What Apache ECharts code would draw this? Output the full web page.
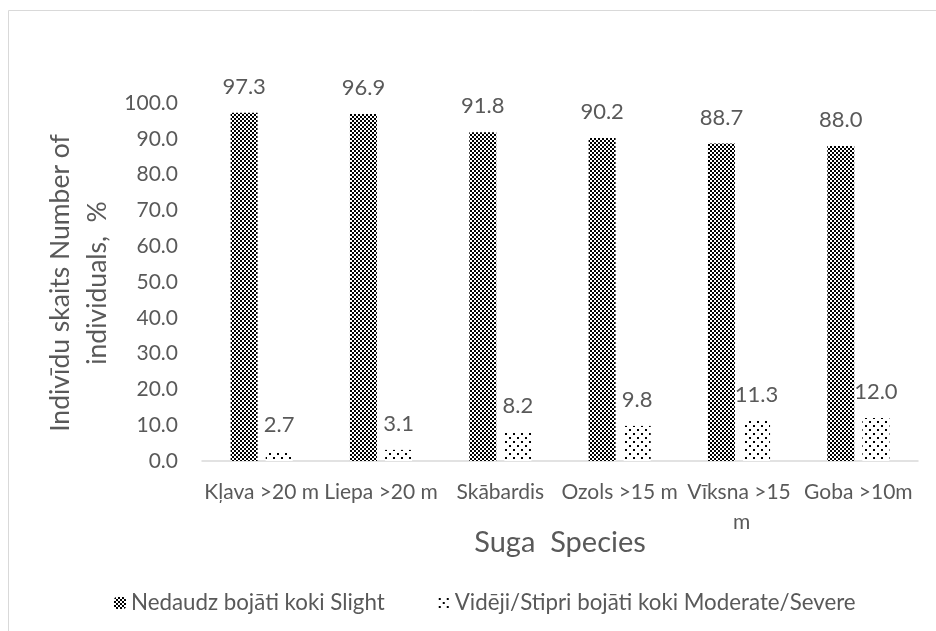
<!DOCTYPE html>
<html>
<head>
<meta charset="utf-8">
<script src="https://cdn.jsdelivr.net/npm/echarts@6/dist/echarts.min.js"></script>
<style>
    html, body { margin: 0; padding: 0; background: #fff; }
    #chart { width: 936px; height: 631px; }
</style>
</head>
<body>
<div id="chart"></div>
<script>
    var categories = ['Kļava >20 m', 'Liepa >20 m', 'Skābardis', 'Ozols >15 m', 'Vīksna >15 m', 'Goba >10m'];
    var slightValues = [97.3, 96.9, 91.8, 90.2, 88.7, 88.0];
    var severeValues = [2.7, 3.1, 8.2, 9.8, 11.3, 12.0];
    var seriesNames = ['Nedaudz bojāti koki Slight', 'Vidēji/Stipri bojāti koki Moderate/Severe'];
    var yTitle = 'Indivīdu skaits Number of\nindividuals,  %';
    var xTitle = 'Suga  Species';

    var FONT = 'Lato, "Noto Sans", sans-serif';
    var TEXT = '#595959';

    // checkerboard fill
    function checkerPattern() {
        var c = document.createElement('canvas');
        c.width = 4; c.height = 4;
        var g = c.getContext('2d');
        g.fillStyle = '#fff';
        g.fillRect(0, 0, 4, 4);
        g.fillStyle = '#000';
        g.fillRect(0, 0, 2, 2);
        g.fillRect(2, 2, 2, 2);
        return c;
    }

    // sparse dots fill
    function dotPattern() {
        var c = document.createElement('canvas');
        c.width = 8; c.height = 8;
        var g = c.getContext('2d');
        g.fillStyle = '#fff';
        g.fillRect(0, 0, 8, 8);
        g.fillStyle = '#000';
        g.fillRect(1, 1, 2, 2);
        g.fillRect(5, 5, 2, 2);
        return c;
    }

    // only the longest name wraps in the original
    var longest = categories.reduce(function (a, b) { return b.length > a.length ? b : a; });
    var categoryData = categories.map(function (c) {
        return c === longest ? {value: c, textStyle: {width: 124, overflow: 'break'}} : c;
    });

    var chart = echarts.init(document.getElementById('chart'), null, {renderer: 'canvas'});

    var labelStyle = {
        show: true,
        position: 'top',
        distance: 15,
        color: TEXT,
        fontFamily: FONT,
        fontSize: 22,
        formatter: function (p) { return p.value.toFixed(1); }
    };

    chart.setOption({
        animation: false,
        textStyle: {fontFamily: FONT},
        graphic: [{
            type: 'rect',
            shape: {x: 8.5, y: 10.5, width: 1000, height: 700},
            style: {fill: 'none', stroke: '#d9d9d9', lineWidth: 1},
            silent: true
        }, {
            type: 'text',
            x: 79,
            y: 283,
            rotation: Math.PI / 2,
            style: {
                text: yTitle,
                fill: TEXT,
                font: '26.5px ' + FONT,
                lineHeight: 37,
                align: 'center',
                verticalAlign: 'middle'
            },
            silent: true
        }],
        grid: {left: 202, right: 18, top: 103, bottom: 170},
        legend: {
            data: seriesNames,
            left: 109,
            top: 587,
            itemWidth: 12,
            itemHeight: 12,
            itemGap: 53,
            textStyle: {color: TEXT, fontFamily: FONT, fontSize: 22.3}
        },
        xAxis: {
            type: 'category',
            data: categoryData,
            name: xTitle,
            nameLocation: 'middle',
            nameGap: 67,
            nameMoveOverlap: false,
            nameTextStyle: {color: TEXT, fontFamily: FONT, fontSize: 29},
            axisLine: {lineStyle: {color: '#d9d9d9', width: 1.5}},
            axisTick: {show: false},
            axisLabel: {
                color: TEXT,
                fontFamily: FONT,
                fontSize: 21,
                margin: 16,
                interval: 0,
                hideOverlap: false,
                lineHeight: 30
            }
        },
        yAxis: {
            type: 'value',
            min: 0,
            max: 100,
            interval: 10,
            splitLine: {show: false},
            axisLine: {show: false},
            axisTick: {show: false},
            axisLabel: {
                color: TEXT,
                fontFamily: FONT,
                fontSize: 21,
                margin: 24,
                formatter: function (v) { return v.toFixed(1); }
            }
        },
        series: [{
            name: seriesNames[0],
            type: 'bar',
            data: slightValues,
            barWidth: 27,
            barGap: '30%',
            itemStyle: {color: {image: checkerPattern(), repeat: 'repeat'}},
            label: labelStyle
        }, {
            name: seriesNames[1],
            type: 'bar',
            data: severeValues,
            barWidth: 27,
            itemStyle: {color: {image: dotPattern(), repeat: 'repeat'}},
            label: labelStyle
        }]
    });
</script>
</body>
</html>
